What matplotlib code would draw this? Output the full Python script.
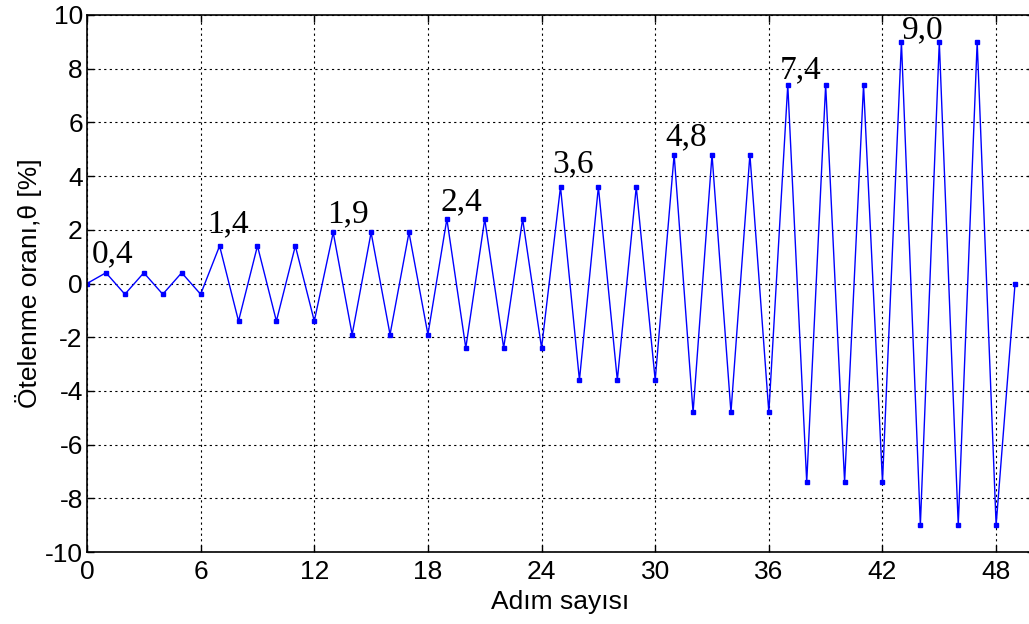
import matplotlib
matplotlib.use("Agg")
import matplotlib.pyplot as plt

plt.rcParams['axes.unicode_minus'] = False

steps = list(range(50))
drift = [0.0,
         0.4, -0.4, 0.4, -0.4, 0.4, -0.4,
         1.4, -1.4, 1.4, -1.4, 1.4, -1.4,
         1.9, -1.9, 1.9, -1.9, 1.9, -1.9,
         2.4, -2.4, 2.4, -2.4, 2.4, -2.4,
         3.6, -3.6, 3.6, -3.6, 3.6, -3.6,
         4.8, -4.8, 4.8, -4.8, 4.8, -4.8,
         7.4, -7.4, 7.4, -7.4, 7.4, -7.4,
         9.0, -9.0, 9.0, -9.0, 9.0, -9.0,
         0.0]
labels = ["0,4", "1,4", "1,9", "2,4", "3,6", "4,8", "7,4", "9,0"]
label_x = [0.26, 6.34, 12.68, 18.69, 24.58, 30.53, 36.57, 43.0]
label_y = [0.78, 1.90, 2.28, 2.72, 4.13, 5.14, 7.63, 9.12]
xticks = [0, 6, 12, 18, 24, 30, 36, 42, 48]
yticks = list(range(-10, 11, 2))

fig = plt.figure(figsize=(10.29, 6.24), dpi=100)
ax = fig.add_axes([87/1029, 1-552/624, (1034-87)/1029, (552-15)/624])
ax.plot(steps, drift, color="blue", lw=1.0, marker="s", ms=3.2, mec="blue", mfc="blue")
ax.set_xlim(0, 50)
ax.set_ylim(-10, 10)
ax.set_xticks(xticks)
ax.set_yticks(yticks)
ax.grid(True, color="black", linestyle=(0, (2, 3)), linewidth=0.8)
ax.tick_params(direction="in", labelsize=19, length=5, width=1,
               top=True, right=True)
ax.tick_params(axis="y", pad=3)
ax.tick_params(axis="x", pad=6)
for lab in ax.get_xticklabels() + ax.get_yticklabels():
    lab.set_family("Liberation Sans")
for s in ax.spines.values():
    s.set_linewidth(1.2)
ax.set_xlabel("Adım sayısı", fontsize=19, family="Liberation Sans", labelpad=4)
ax.set_ylabel("Ötelenme oranı,θ [%]", fontsize=19, family="Liberation Sans", labelpad=2)
for t, x, y in zip(labels, label_x, label_y):
    ax.text(x, y, t, fontsize=24, family="Liberation Serif", ha="left", va="baseline")

fig.savefig("out.png", dpi=100)
